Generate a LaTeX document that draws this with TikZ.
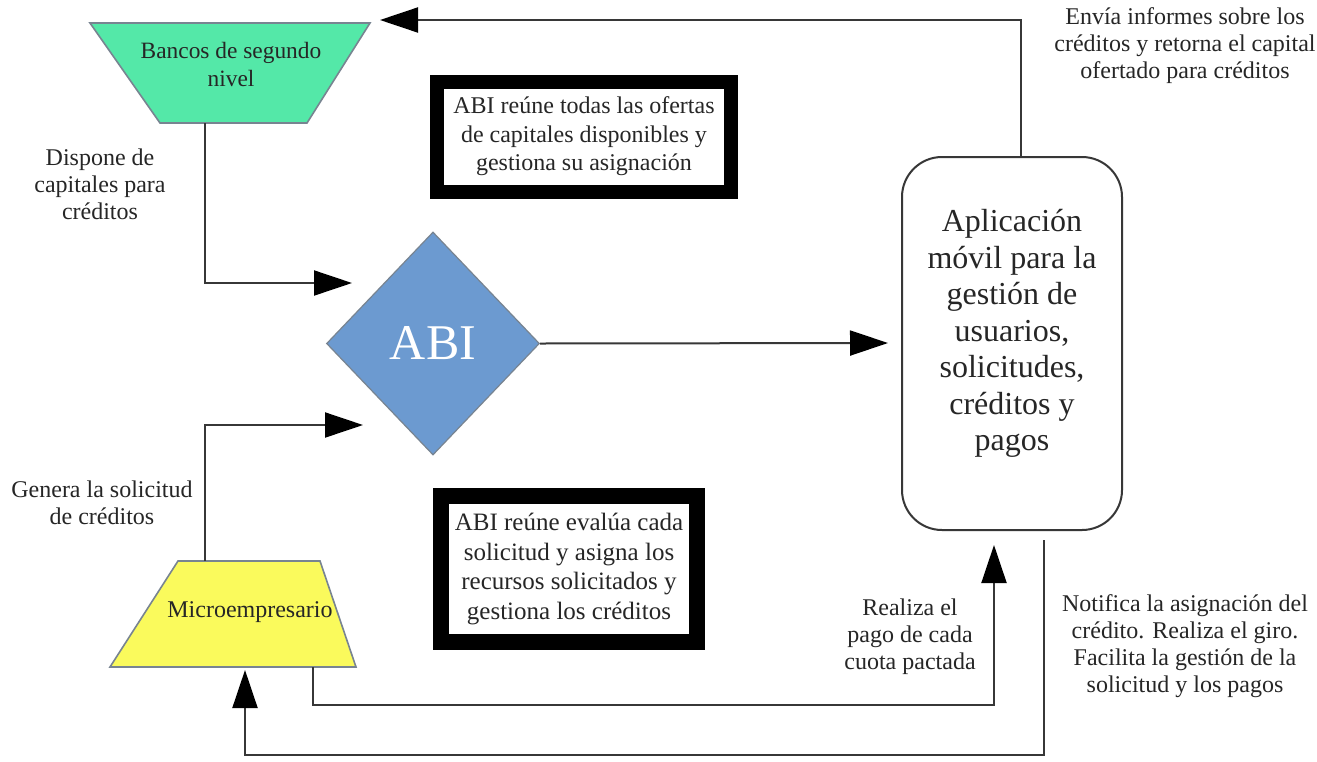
\documentclass[tikz,border=0pt]{standalone}
\usepackage{fontspec}
\setmainfont{Liberation Serif}
\usetikzlibrary{arrows.meta,shapes.geometric,calc}
\definecolor{bankgreen}{RGB}{84,232,168}
\definecolor{microyellow}{RGB}{250,250,92}
\definecolor{abiblue}{RGB}{108,154,208}
\definecolor{edgegray}{RGB}{120,132,145}
\definecolor{linegray}{RGB}{55,55,55}
\definecolor{txt}{RGB}{38,38,38}
\begin{document}
\begin{tikzpicture}[x=0.5pt,y=-0.5pt,
  lbl/.style={font=\fontsize{12}{13.5}\selectfont, align=center, text=txt, inner sep=0pt},
  conn/.style={draw=linegray, line width=1pt, -{Triangle[length=19pt,width=12.5pt,color=black]}},
  thickbox/.style={draw=black, fill=white, inner sep=0pt, align=center, text=txt},
  shapeedge/.style={draw=edgegray, line width=0.8pt},
  appbox/.style={draw=linegray, line width=1pt, rounded corners=20pt, fill=white,
    minimum width=110pt, minimum height=186.5pt, inner sep=0pt}]

\fill[white] (0,0) rectangle (1317,761);
\path[use as bounding box] (0,0) rectangle (1317,761);

% Bancos de segundo nivel
\draw[shapeedge, fill=bankgreen] (90,23) -- (370,23) -- (307,123) -- (160,123) -- cycle;
\node[lbl, font=\fontsize{11.7}{14}\selectfont] (bancos) at (231,64) {Bancos de segundo\\nivel};

% Microempresario
\draw[shapeedge, fill=microyellow] (178,561) -- (320,561) -- (356,667) -- (110,667) -- cycle;
\node[lbl] (micro) at (250,612) {Microempresario};

% ABI diamond
\node[diamond, draw=edgegray, line width=0.6pt, fill=abiblue, minimum width=106.5pt,
  minimum height=111.5pt, inner sep=0pt, text=white,
  font=\fontsize{25}{25}\selectfont] (abi) at (433,343.5) {ABI};

% Thick boxes
\node[thickbox, line width=7pt, minimum width=147pt, minimum height=55pt,
  font=\fontsize{12}{14.25}\selectfont] (box1) at (584,136.5)
  {ABI reúne todas las ofertas\\de capitales disponibles y\\gestiona su asignación};
\node[thickbox, line width=8pt, minimum width=128pt, minimum height=73pt,
  font=\fontsize{12.5}{14.8}\selectfont] (box2) at (569,569)
  {ABI reúne evalúa cada\\solicitud y asigna los\\recursos solicitados y\\gestiona los créditos};

% Application box
\node[appbox] (app) at (1012,343.5) {};
\node[lbl, font=\fontsize{16}{18.25}\selectfont, yshift=5pt] (apptext) at (app.center)
  {Aplicación\\móvil para la\\gestión de\\usuarios,\\solicitudes,\\créditos y\\pagos};

% Labels
\node[lbl] (l1) at (100,184) {Dispone de\\capitales para\\créditos};
\node[lbl] (l2) at (102,503) {Genera la solicitud\\de créditos};
\node[lbl] (l3) at (1185,46) {Envía informes sobre los\\créditos y retorna el capital\\ofertado para créditos};
\node[lbl] (l4) at (910,637) {Realiza el\\pago de cada\\cuota pactada};
\node[lbl] (l5) at (1185,646) {Notifica la asignación del\\crédito. Realiza el giro.\\Facilita la gestión de la\\solicitud y los pagos};

% Connector end points
\coordinate (bancosB) at (205,123);
\coordinate (abiIn1) at (352,283);
\coordinate (microT) at (205,561);
\coordinate (abiIn2) at (363,425);
\coordinate (appIn) at (888,343);
\coordinate (appT) at (1021,157);
\coordinate (bancosIn) at (380,20);
\coordinate (microB) at (313,667);
\coordinate (appIn2) at (994,545);
\coordinate (appB) at (1044,540);
\coordinate (microIn) at (245,670);

% Connectors
\draw[conn] (bancosB) |- (abiIn1);
\draw[conn] (microT) |- (abiIn2);
\draw[conn] (abi.east) -- (appIn);
\draw[conn] (appT) |- (bancosIn);
\draw[conn] (microB) -- ++(0,38) -| (appIn2);
\draw[conn] (appB) -- ++(0,215) -| (microIn);
\end{tikzpicture}
\end{document}
